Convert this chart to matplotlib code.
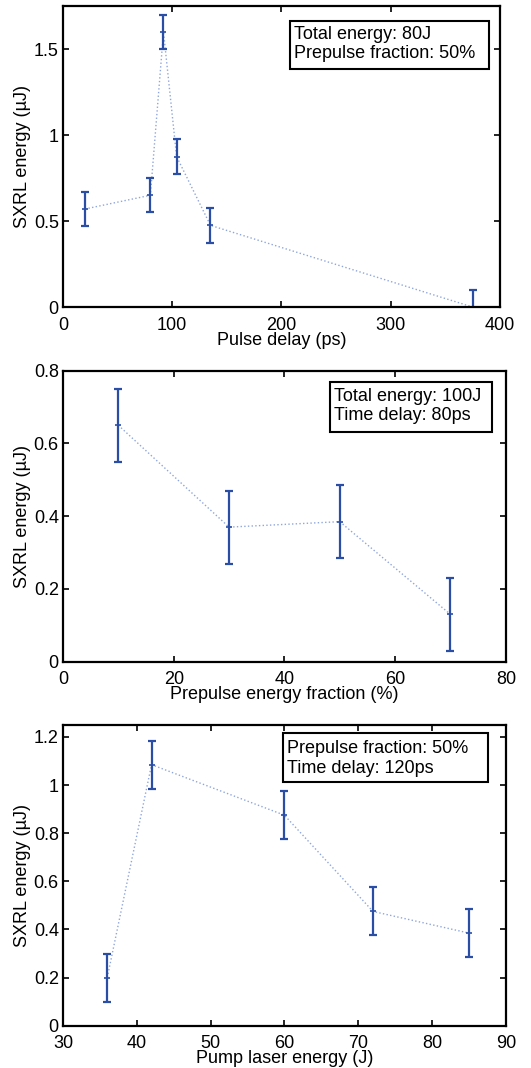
import matplotlib
matplotlib.use("Agg")
import matplotlib.pyplot as plt
from matplotlib.patches import Rectangle

plt.rcParams['font.family'] = ['Liberation Sans', 'DejaVu Sans']

# Panel 1: pulse delay scan
delay_ps = [20, 80, 92, 104, 135, 375]
delay_energy = [0.57, 0.65, 1.60, 0.875, 0.475, 0.0]
delay_err = [0.1, 0.1, 0.1, 0.1, 0.1, 0.1]

# Panel 2: prepulse fraction scan
fraction_pct = [10, 30, 50, 70]
fraction_energy = [0.65, 0.37, 0.385, 0.13]
fraction_err = [0.1, 0.1, 0.1, 0.1]

# Panel 3: pump laser energy scan
pump_J = [36, 42, 60, 72, 85]
pump_energy = [0.2, 1.085, 0.875, 0.475, 0.385]
pump_err = [0.1, 0.1, 0.1, 0.1, 0.1]

blue = "#2a4ea6"
light = "#8fa6dc"

panels = [
    dict(x=delay_ps, y=delay_energy, e=delay_err,
         pos=[0.1186, 0.7125, 0.823, 0.2818],
         xlim=(0, 400), ylim=(0, 1.75),
         xticks=[0, 100, 200, 300, 400], yticks=[0, 0.5, 1, 1.5],
         ytl=["0", "0.5", "1", "1.5"],
         xlabel="Pulse delay (ps)",
         note="Total energy: 80J\nPrepulse fraction: 50%",
         box=(0.519, 0.791, 0.975, 0.951), txt=(0.529, 0.874)),
    dict(x=fraction_pct, y=fraction_energy, e=fraction_err,
         pos=[0.1186, 0.3804, 0.834, 0.2725],
         xlim=(0, 80), ylim=(0, 0.8),
         xticks=[0, 20, 40, 60, 80], yticks=[0, 0.2, 0.4, 0.6, 0.8],
         ytl=["0", "0.2", "0.4", "0.6", "0.8"],
         xlabel="Prepulse energy fraction (%)",
         note="Total energy: 100J\nTime delay: 80ps",
         box=(0.603, 0.790, 0.968, 0.962), txt=(0.612, 0.879)),
    dict(x=pump_J, y=pump_energy, e=pump_err,
         pos=[0.1186, 0.0396, 0.834, 0.2816],
         xlim=(30, 90), ylim=(0, 1.25),
         xticks=[30, 40, 50, 60, 70, 80, 90], yticks=[0, 0.2, 0.4, 0.6, 0.8, 1, 1.2],
         ytl=["0", "0.2", "0.4", "0.6", "0.8", "1", "1.2"],
         xlabel="Pump laser energy (J)",
         note="Prepulse fraction: 50%\nTime delay: 120ps",
         box=(0.497, 0.811, 0.959, 0.973), txt=(0.506, 0.888)),
]

fig = plt.figure(figsize=(5.31, 10.68), dpi=100)

for p in panels:
    ax = fig.add_axes(p["pos"])
    ax.plot(p["x"], p["y"], linestyle=":", color=light, linewidth=1.0)
    ax.errorbar(p["x"], p["y"], yerr=p["e"], fmt="none", ecolor=blue,
                elinewidth=1.6, capsize=2.6, capthick=1.6)
    ax.plot(p["x"], p["y"], linestyle="none", marker="+", color=blue,
            markersize=4, markeredgewidth=1.2)
    ax.set_xlim(*p["xlim"])
    ax.set_ylim(*p["ylim"])
    ax.set_xticks(p["xticks"])
    ax.set_yticks(p["yticks"])
    ax.set_yticklabels(p["ytl"])
    ax.tick_params(direction="in", top=True, right=True, length=4, width=1.2,
                   labelsize=13)
    ax.tick_params(axis="x", pad=7)
    ax.tick_params(axis="y", pad=3)
    for s in ax.spines.values():
        s.set_linewidth(1.6)
    ax.set_xlabel(p["xlabel"], fontsize=13, labelpad=-1.5)
    ax.set_ylabel("SXRL energy (\u00b5J)", fontsize=13, labelpad=2)

    # annotation box (matlab-legend style)
    x0, y0, x1, y1 = p["box"]
    ax.add_patch(Rectangle((x0, y0), x1 - x0, y1 - y0, transform=ax.transAxes,
                           facecolor="white", edgecolor="black", linewidth=1.5,
                           zorder=5))
    ax.text(p["txt"][0], p["txt"][1], p["note"], transform=ax.transAxes,
            ha="left", va="center", fontsize=13, linespacing=1.2, zorder=6)

fig.savefig("out.png", dpi=100)
